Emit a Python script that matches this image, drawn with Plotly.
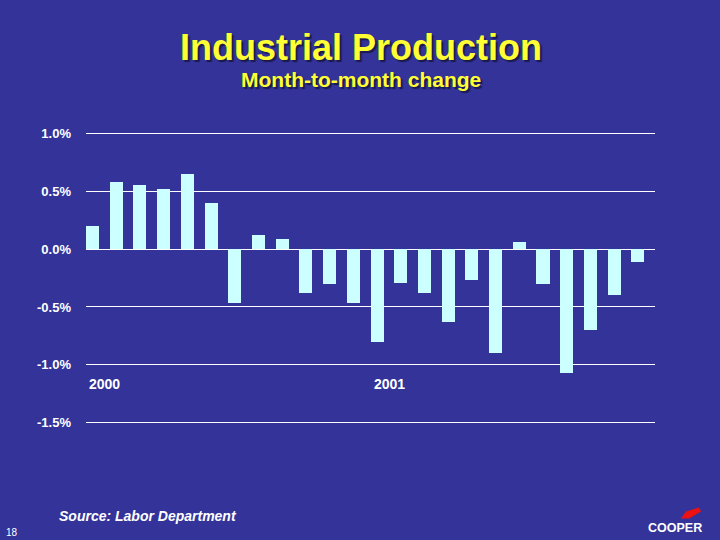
import plotly.graph_objects as go

months = ["Jan 2000", "Feb 2000", "Mar 2000", "Apr 2000", "May 2000", "Jun 2000",
          "Jul 2000", "Aug 2000", "Sep 2000", "Oct 2000", "Nov 2000", "Dec 2000",
          "Jan 2001", "Feb 2001", "Mar 2001", "Apr 2001", "May 2001", "Jun 2001",
          "Jul 2001", "Aug 2001", "Sep 2001", "Oct 2001", "Nov 2001", "Dec 2001"]
change_pct = [0.20, 0.58, 0.55, 0.52, 0.65, 0.40,
              -0.47, 0.12, 0.09, -0.38, -0.30, -0.47,
              -0.80, -0.29, -0.38, -0.63, -0.27, -0.90,
              0.06, -0.30, -1.07, -0.70, -0.40, -0.11]
tick_vals = [1.0, 0.5, 0.0, -0.5, -1.0, -1.5]
tick_text = ["1.0%", "0.5%", "0.0%", "-0.5%", "-1.0%", "-1.5%"]
year_labels = ["2000", "2001"]
year_idx = [0, 12]

BG = "#333399"
BAR = "#CCFFFF"
YEL = "#FFFF33"
FONT = "Liberation Sans, Arial, sans-serif"
NARROW = "Liberation Sans Narrow, Liberation Sans, Arial, sans-serif"
SHADOW = "2px 2px 1px #1a1a4d"

W, H = 720, 540
L, R = 86, 655
T, B = 130.7, 425.3

x = list(range(len(change_pct)))

fig = go.Figure()
fig.add_trace(go.Bar(x=x, y=change_pct, width=0.55, marker=dict(color=BAR, line=dict(width=0)),
                     hovertext=months, hoverinfo="text+y"))

def px(xp):
    return (xp - L) / (R - L)

def py(yp):
    return (B - yp) / (B - T)

annotations = []
annotations.append(dict(text="<b>Industrial Production</b>", x=px(361), y=py(47),
                        xref="paper", yref="paper", showarrow=False, xanchor="center", yanchor="middle",
                        font=dict(family=NARROW, size=36, color=YEL, shadow=SHADOW)))
annotations.append(dict(text="<b>Month-to-month change</b>", x=px(361), y=py(79),
                        xref="paper", yref="paper", showarrow=False, xanchor="center", yanchor="middle",
                        font=dict(family=NARROW, size=21, color=YEL, shadow=SHADOW)))
for lab, i in zip(year_labels, year_idx):
    annotations.append(dict(text="<b>%s</b>" % lab, x=i - 0.22, y=-1.17, xref="x", yref="y",
                            showarrow=False, xanchor="left", yanchor="middle",
                            font=dict(family=FONT, size=14, color="white")))
annotations.append(dict(text="<b><i>Source: Labor Department</i></b>", x=px(57), y=py(516),
                        xref="paper", yref="paper", showarrow=False, xanchor="left", yanchor="middle",
                        font=dict(family=FONT, size=14, color="white")))
annotations.append(dict(text="18", x=px(4), y=py(533), xref="paper", yref="paper", showarrow=False,
                        xanchor="left", yanchor="middle", font=dict(family=FONT, size=10, color="white")))
annotations.append(dict(text="<b>COOPER</b>", x=px(704), y=py(528.5), xref="paper", yref="paper",
                        showarrow=False, xanchor="right", yanchor="middle",
                        font=dict(family=FONT, size=12.5, color="white")))

pts = [(681, 519), (689, 519), (701, 512), (699, 508), (686, 512)]
path = "M " + " L ".join("%f,%f" % (px(a), py(b)) for a, b in pts) + " Z"
shapes = [dict(type="path", path=path, xref="paper", yref="paper", fillcolor="#EE1111", line=dict(width=0))]

fig.update_layout(
    width=W, height=H,
    paper_bgcolor=BG, plot_bgcolor=BG,
    margin=dict(l=L, r=W - R, t=T, b=H - B, pad=0),
    showlegend=False,
    bargap=0,
    annotations=annotations,
    shapes=shapes,
    xaxis=dict(range=[-0.275, 23.725], showticklabels=False, showgrid=False, zeroline=False,
               ticks="", showline=False, fixedrange=True),
    yaxis=dict(range=[-1.52, 1.02], tickvals=tick_vals, ticktext=["<b>%s</b>" % t for t in tick_text],
               tickfont=dict(family=FONT, size=13, color="white"), showgrid=True, gridcolor="white",
               gridwidth=1, zeroline=True, zerolinecolor="white", zerolinewidth=1, showline=False,
               ticks="", ticklabelstandoff=14, fixedrange=True),
)

fig.write_html("out.html")
